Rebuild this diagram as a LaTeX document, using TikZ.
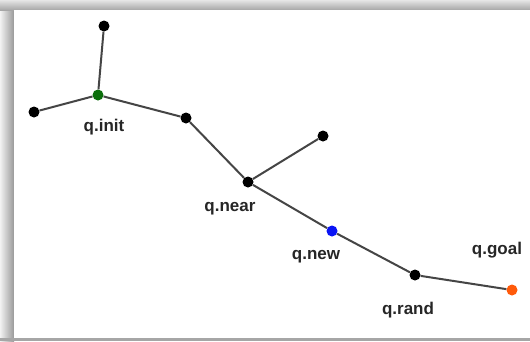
\documentclass[tikz,border=0pt]{standalone}
\usepackage{fontspec}
\setmainfont{Liberation Sans}
\definecolor{edgec}{HTML}{454545}
\definecolor{initc}{HTML}{0B6E0B}
\definecolor{newc}{HTML}{0A14F5}
\definecolor{goalc}{HTML}{FF5A0A}
\begin{document}
\begin{tikzpicture}[x=1pt,y=-1pt,
  vtx/.style={circle,fill=black,inner sep=0pt,minimum size=11pt},
  edge/.style={draw=edgec,line width=2pt},
  lbl/.style={font=\fontsize{17}{19}\selectfont\bfseries,text=black!85,inner sep=0pt}]
\useasboundingbox (0,0) rectangle (530,341);
% shadow frame
\shade[left color=black!5,right color=black!40] (0,0) rectangle (14,341);
\shade[top color=black!10,bottom color=black!35] (0,0) rectangle (530,10);
\fill[black!35] (0,338) rectangle (530,341);
\fill[white] (14,10) rectangle (530,338);
% nodes
\node[vtx] (top) at (104,26) {};
\node[vtx] (left) at (34,112) {};
\node[vtx,fill=initc] (init) at (98,95) {};
\node[vtx] (a) at (186,118) {};
\node[vtx] (near) at (248,182) {};
\node[vtx] (br) at (323,136) {};
\node[vtx,fill=newc] (new) at (332,231) {};
\node[vtx] (rand) at (415,275) {};
\node[vtx,fill=goalc] (goal) at (512,290) {};
% edges
\draw[edge] (init) -- (top);
\draw[edge] (init) -- (left);
\draw[edge] (init) -- (a);
\draw[edge] (a) -- (near);
\draw[edge] (near) -- (br);
\draw[edge] (near) -- (new);
\draw[edge] (new) -- (rand);
\draw[edge] (rand) -- (goal);
% labels
\node[lbl] (linit) at (104,127) {q.init};
\node[lbl] (lnear) at (230,209) {q.near};
\node[lbl] (lnew) at (316,257) {q.new};
\node[lbl] (lrand) at (408,310) {q.rand};
\node[lbl] (lgoal) at (497,250) {q.goal};
\end{tikzpicture}
\end{document}
